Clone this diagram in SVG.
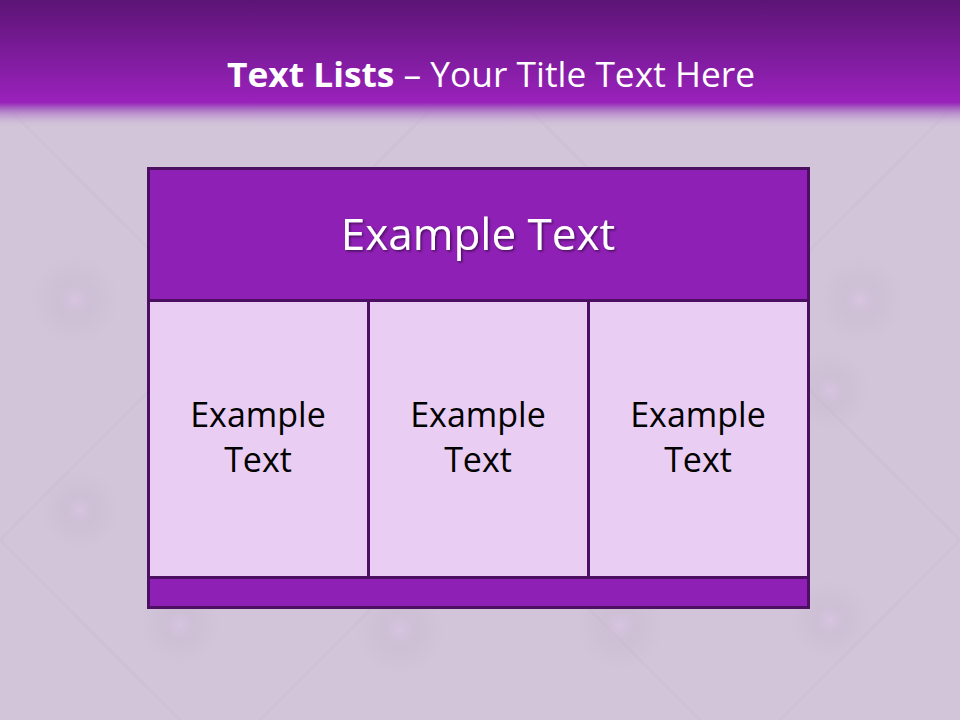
<svg xmlns="http://www.w3.org/2000/svg" width="960" height="720" viewBox="0 0 960 720">
<defs>
<linearGradient id="band" x1="0" y1="0" x2="0" y2="1">
<stop offset="0" stop-color="#5c1476"/>
<stop offset="0.8" stop-color="#9a22bc"/>
<stop offset="0.84" stop-color="#a55cc0"/>
<stop offset="1" stop-color="#d0c4d8" stop-opacity="0"/>
</linearGradient>
<radialGradient id="tuft" cx="0.5" cy="0.5" r="0.5">
<stop offset="0" stop-color="#dcc4e6" stop-opacity="0.6"/>
<stop offset="0.4" stop-color="#c4b4cc" stop-opacity="0.35"/>
<stop offset="1" stop-color="#c4b4cc" stop-opacity="0"/>
</radialGradient>
<filter id="sh" x="-10%" y="-10%" width="130%" height="140%">
<feDropShadow dx="1.5" dy="1.5" stdDeviation="1" flood-color="#000" flood-opacity="0.5"/>
</filter>
<style>
.cell{fill:#e9cdf3;stroke:#4c0f62;stroke-width:3}
.dark{fill:#8f20b5;stroke:#4c0f62;stroke-width:3}
.ct{font-family:"Open Sans","Liberation Sans",sans-serif;font-size:34px;fill:#000;text-anchor:middle}
</style>
</defs>
<rect width="960" height="720" fill="#d2c5d9"/>
<g id="background-pattern" stroke="#cabdd1" stroke-width="2" fill="none" opacity="0.5">
<path d="M0 100 L220 320 L440 100 M0 540 L220 320 M0 540 L220 760 M520 100 L740 320 L960 100 M740 320 L960 540 M740 320 L520 540 L740 760 L960 540 M220 760 L440 540 L220 320"/>
</g>
<g fill="url(#tuft)">
<circle cx="75" cy="300" r="45"/>
<circle cx="80" cy="510" r="40"/>
<circle cx="860" cy="300" r="45"/>
<circle cx="830" cy="390" r="40"/>
<circle cx="400" cy="630" r="45"/>
<circle cx="620" cy="625" r="45"/>
<circle cx="830" cy="620" r="40"/>
<circle cx="180" cy="625" r="40"/>
</g>
<rect x="0" y="0" width="960" height="128" fill="url(#band)"/>
<g id="title">
<text x="491" y="87" text-anchor="middle" font-family="Open Sans, Liberation Sans, sans-serif" font-size="34" fill="#fff" textLength="528" lengthAdjust="spacingAndGlyphs"><tspan font-weight="bold">Text Lists</tspan><tspan>  – Your Title Text Here</tspan></text>
</g>
<g id="header">
<rect class="dark" x="148.5" y="168.5" width="660" height="132"/>
<text x="478" y="250" text-anchor="middle" font-family="Open Sans, Liberation Sans, sans-serif" font-size="44" fill="#fff" filter="url(#sh)">Example Text</text>
</g>
<g id="cell1">
<rect class="cell" x="148.5" y="300.5" width="220" height="277"/>
<text class="ct" x="258" y="427">Example</text>
<text class="ct" x="258" y="472">Text</text>
</g>
<g id="cell2">
<rect class="cell" x="368.5" y="300.5" width="220" height="277"/>
<text class="ct" x="478" y="427">Example</text>
<text class="ct" x="478" y="472">Text</text>
</g>
<g id="cell3">
<rect class="cell" x="588.5" y="300.5" width="220" height="277"/>
<text class="ct" x="698" y="427">Example</text>
<text class="ct" x="698" y="472">Text</text>
</g>
<g id="footer">
<rect class="dark" x="148.5" y="577.5" width="660" height="30"/>
</g>
<g id="connectors"/>
</svg>
